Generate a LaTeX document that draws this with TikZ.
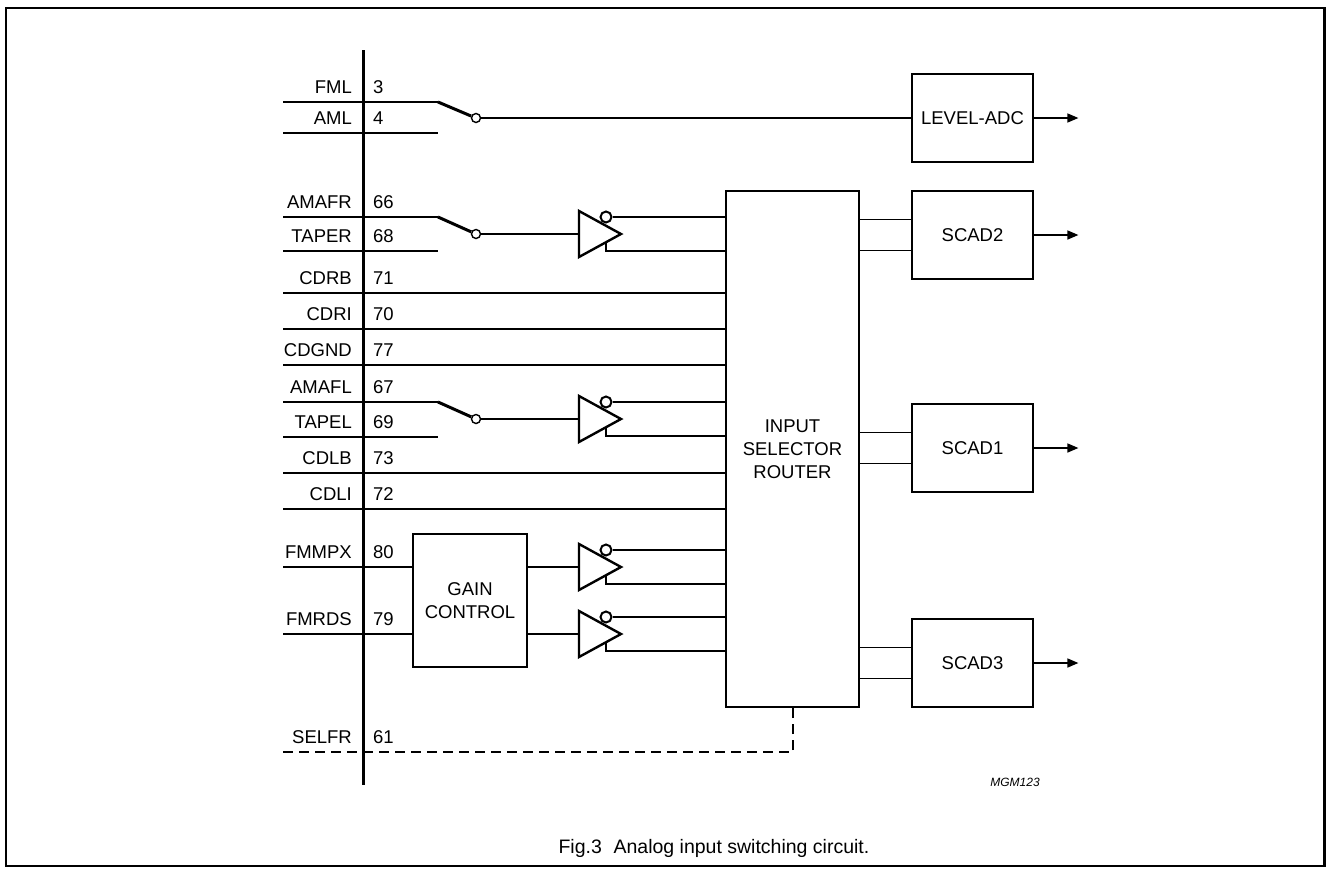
\documentclass[tikz,border=0pt]{standalone}
\usepackage{fontspec}
\setmainfont{Liberation Sans}
\usetikzlibrary{arrows.meta}
\newcommand\pinrow[4]{%
  \node[lbl, anchor=east] (#1n) at (352,#4-15) {#2};
  \node[lbl, anchor=west] (#1k) at (373,#4-15) {#3};
  \coordinate (#1) at (283,#4);}
\newcommand\bufgate[2]{%
  \draw[gate] (579,#2-23) -- (621,#2) -- (579,#2+23) -- cycle;
  \coordinate (#1in) at (579,#2);
  \node[bub] (#1b) at (606,#2-17) {};
  \coordinate (#1p) at (606,#2+8.5);
  \coordinate (#1q) at (606,#2+17);}
\begin{document}
\begin{tikzpicture}[x=1pt,y=-1pt,
  font=\fontsize{18.5}{23}\selectfont,
  wire/.style={line width=1.5pt},
  gate/.style={line width=2.4pt, line join=miter},
  blk/.style={draw, line width=2.8pt, inner sep=0pt, align=center},
  bub/.style={circle, draw, line width=2pt, minimum size=11pt, inner sep=0pt, fill=white},
  swc/.style={circle, draw, line width=1.4pt, minimum size=9pt, inner sep=0pt, fill=white},
  blade/.style={line width=3pt},
  lbl/.style={inner sep=0pt},
  arr/.style={line width=1.5pt, -{Triangle[length=11pt,width=9pt]}},
  bus/.style={line width=3pt},
  sel/.style={line width=1.5pt, dash pattern=on 10pt off 6pt}]
\useasboundingbox (0,0) rectangle (1327,868);
\draw[line width=2.3pt] (6,8) rectangle (1324.5,866);

% blocks
\node[blk, minimum width=121pt, minimum height=88pt] (lvl) at (972.5,118) {LEVEL-ADC};
\node[blk, minimum width=133pt, minimum height=516pt] (rtr) at (792.5,449) {INPUT\\SELECTOR\\ROUTER};
\node[blk, minimum width=121pt, minimum height=88pt] (sc2) at (972.5,235) {SCAD2};
\node[blk, minimum width=121pt, minimum height=88pt] (sc1) at (972.5,448) {SCAD1};
\node[blk, minimum width=121pt, minimum height=88pt] (sc3) at (972.5,663) {SCAD3};
\node[blk, minimum width=114pt, minimum height=133pt] (gain) at (470,600.5) {GAIN\\CONTROL};

% pins
\pinrow{pFML}{FML}{3}{102}
\pinrow{pAML}{AML}{4}{133}
\pinrow{pAMAFR}{AMAFR}{66}{217}
\pinrow{pTAPER}{TAPER}{68}{251}
\pinrow{pCDRB}{CDRB}{71}{293}
\pinrow{pCDRI}{CDRI}{70}{329}
\pinrow{pCDGND}{CDGND}{77}{365}
\pinrow{pAMAFL}{AMAFL}{67}{402}
\pinrow{pTAPEL}{TAPEL}{69}{437}
\pinrow{pCDLB}{CDLB}{73}{473}
\pinrow{pCDLI}{CDLI}{72}{509}
\pinrow{pFMMPX}{FMMPX}{80}{567}
\pinrow{pFMRDS}{FMRDS}{79}{634}
\pinrow{pSELFR}{SELFR}{61}{752}

% switch 1
\draw[wire] (pFML) -- ++(155,0) coordinate (sw1a);
\draw[wire] (pAML) -- ++(155,0);
\node[swc] (c1) at (476,118) {};
\draw[blade] (sw1a) -- (c1.158);
\draw[wire] (c1) -- (lvl);
\draw[arr] (lvl.east) -- ++(44,0) coordinate (o0);

% switch 2 + buffer A
\draw[wire] (pAMAFR) -- ++(155,0) coordinate (sw2a);
\draw[wire] (pTAPER) -- ++(155,0);
\node[swc] (c2) at (476,234) {};
\bufgate{bA}{234}
\draw[blade] (sw2a) -- (c2.156);
\draw[wire] (c2) -- (bAin);
\draw[wire] (bAb.east) -- (bAb.east -| rtr.west);
\draw[wire] (bAp) -- (bAq) -- (bAq -| rtr.west);

% direct inputs
\draw[wire] (pCDRB) -- (pCDRB -| rtr.west);
\draw[wire] (pCDRI) -- (pCDRI -| rtr.west);
\draw[wire] (pCDGND) -- (pCDGND -| rtr.west);

% switch 3 + buffer B
\draw[wire] (pAMAFL) -- ++(155,0) coordinate (sw3a);
\draw[wire] (pTAPEL) -- ++(155,0);
\node[swc] (c3) at (476,419) {};
\bufgate{bB}{419}
\draw[blade] (sw3a) -- (c3.156);
\draw[wire] (c3) -- (bBin);
\draw[wire] (bBb.east) -- (bBb.east -| rtr.west);
\draw[wire] (bBp) -- (bBq) -- (bBq -| rtr.west);

\draw[wire] (pCDLB) -- (pCDLB -| rtr.west);
\draw[wire] (pCDLI) -- (pCDLI -| rtr.west);

% gain control + buffers C, D
\draw[wire] (pFMMPX) -- (pFMMPX -| gain.west);
\draw[wire] (pFMRDS) -- (pFMRDS -| gain.west);
\bufgate{bC}{567}
\bufgate{bD}{634}
\draw[wire] (bCin -| gain.east) -- (bCin);
\draw[wire] (bDin -| gain.east) -- (bDin);
\draw[wire] (bCb.east) -- (bCb.east -| rtr.west);
\draw[wire] (bCp) -- (bCq) -- (bCq -| rtr.west);
\draw[wire] (bDb.east) -- (bDb.east -| rtr.west);
\draw[wire] (bDp) -- (bDq) -- (bDq -| rtr.west);

% router to SCADs
\foreach \s in {sc2,sc1,sc3}{
  \coordinate (\s a) at ([yshift=15.5pt]\s.west);
  \coordinate (\s b) at ([yshift=-15.5pt]\s.west);
  \draw[wire] (\s a -| rtr.east) -- (\s a);
  \draw[wire] (\s b -| rtr.east) -- (\s b);
  \draw[arr] (\s.east) -- ++(44,0);
}

% SELFR dashed
\coordinate (selc) at (793,752);
\draw[sel] (pSELFR) -- (selc) -- (selc |- rtr.south);

% bus
\coordinate (busT) at (363,50);
\coordinate (busB) at (363,785);
\draw[bus] (busT) -- (busB);

\node[font=\itshape\fontsize{12}{14}\selectfont] (mgm) at (1015,782) {MGM123};
\node[font=\fontsize{19.5}{23}\selectfont, anchor=west] (cap) at (555,848) {Fig.3\hspace{0.6em}Analog input switching circuit.};
\end{tikzpicture}
\end{document}
